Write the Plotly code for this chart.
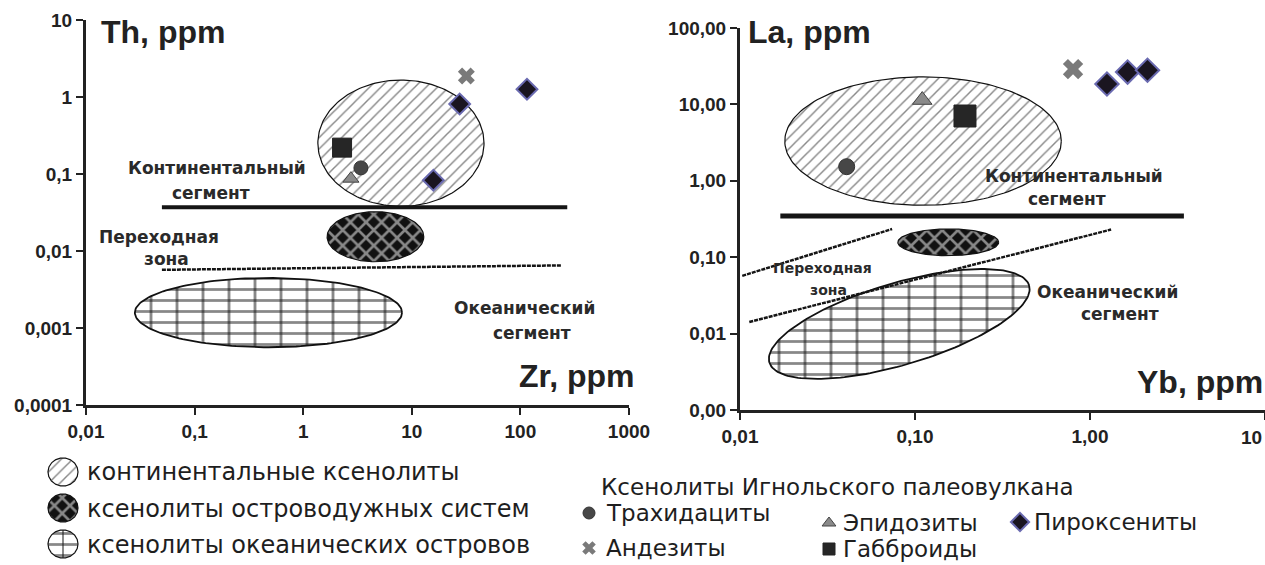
import numpy as np
import plotly.graph_objects as go

W, H = 1265, 565

# ---------------- data ----------------
# Left diagram: Zr (x) vs Th (y), ppm
L_trach_x, L_trach_y = [3.4], [0.12]
L_andes_x, L_andes_y = [31.8], [1.87]
L_epid_x, L_epid_y = [2.75], [0.087]
L_gabb_x, L_gabb_y = [2.28], [0.22]
L_pyrox_x, L_pyrox_y = [15.8, 27.6, 115], [0.083, 0.81, 1.26]

# Right diagram: Yb (x) vs La (y), ppm
R_trach_x, R_trach_y = [0.0407], [1.53]
R_andes_x, R_andes_y = [0.80], [29]
R_epid_x, R_epid_y = [0.110], [11.4]
R_gabb_x, R_gabb_y = [0.193], [7.05]
R_pyrox_x, R_pyrox_y = [1.25, 1.64, 2.13], [18.5, 26.5, 28]

# Field ellipses in log10 space: centre (cx, cy), axis vectors u and v
L_cont_ell = [0.90, -0.60, 0.765, 0.0, 0.0, 0.82]
L_arc_ell = [0.665, -1.815, 0.445, 0.0, 0.0, 0.325]
L_ocean_ell = [-0.32, -2.80, 1.23, 0.0, 0.0, 0.45]
R_cont_ell = [-0.954, 0.52, 0.79, 0.0, 0.0, 0.84]
R_arc_ell = [-0.81, -0.805, 0.288, 0.0, 0.0, 0.175]
R_ocean_ell = [-1.09, -1.874, 0.742, 0.505, 0.067, -0.513]

# Boundary lines (ppm)
L_solid_x, L_solid_y = [0.05, 270], [0.037, 0.037]
L_dash_x, L_dash_y = [0.05, 240], [0.0057, 0.0065]
R_solid_x, R_solid_y = [0.017, 3.44], [0.347, 0.347]
R_dash1_x, R_dash1_y = [0.0103, 0.074], [0.057, 0.234]
R_dash2_x, R_dash2_y = [0.0113, 1.32], [0.0142, 0.23]

# Tick labels
L_xticks = [0.01, 0.1, 1, 10, 100, 1000]
L_xlabels = ["0,01", "0,1", "1", "10", "100", "1000"]
L_yticks = [0.0001, 0.001, 0.01, 0.1, 1, 10]
L_ylabels = ["0,0001", "0,001", "0,01", "0,1", "1", "10"]
R_xticks = [0.01, 0.1, 1, 10]
R_xlabels = ["0,01", "0,10", "1,00", ""]   # last label drawn right-aligned at the edge
R_xlast = "10"
R_yticks = [0.001, 0.01, 0.1, 1, 10, 100]
R_ylabels = ["0,00", "0,01", "0,10", "1,00", "10,00", "100,00"]

# ---------------- styles ----------------
TICKFONT = dict(family="Liberation Sans", size=19, color="#222", weight="bold")
LBL = dict(family="DejaVu Sans", size=17, color="#2a2a2a", weight="bold")
TITLE = dict(family="Liberation Sans", size=32, color="#222", weight="bold")
LEG_L = dict(family="DejaVu Sans", size=24, color="#1e1e1e")
LEG_R = dict(family="DejaVu Sans", size=23, color="#1e1e1e")

PAT_CONT = dict(shape="/", fgcolor="#111", bgcolor="white", size=8, solidity=0.18)
PAT_ARC = dict(shape="x", fgcolor="white", bgcolor="#111", size=11, solidity=0.42)
PAT_BRICK_H = dict(shape="-", fgcolor="#111", bgcolor="white", size=11, solidity=0.25)
PAT_BRICK_V = dict(shape="|", fgcolor="#111", bgcolor="rgba(0,0,0,0)", size=26, solidity=0.11)

MK = {
    "trach": dict(symbol="circle", color="#474747", line=dict(color="#333", width=1)),
    "andes": dict(symbol="x", color="#7a7a7a", line=dict(color="#7a7a7a", width=0)),
    "epid": dict(symbol="triangle-up", color="#8a8a8a", line=dict(color="#444", width=1)),
    "gabb": dict(symbol="square", color="#262626", line=dict(color="#222", width=1)),
    "pyrox": dict(symbol="diamond", color="#1a1520", line=dict(color="#6a6ab0", width=2)),
}

fig = go.Figure()

t = np.linspace(0, 2 * np.pi, 181)


def ellipse(p):
    cx, cy, ux, uy, vx, vy = p
    return 10 ** (cx + ux * np.cos(t) + vx * np.sin(t)), 10 ** (cy + uy * np.cos(t) + vy * np.sin(t))


def add_field(p, pats, ax, lw):
    xs, ys = ellipse(p)
    for i, pat in enumerate(pats):
        fig.add_trace(go.Scatter(x=xs, y=ys, mode="lines", fill="toself", fillpattern=pat,
                                 fillcolor="rgba(0,0,0,0)" if i else "white",
                                 line=dict(color="#111", width=lw if i == len(pats) - 1 else 0),
                                 xaxis="x" + ax, yaxis="y" + ax, showlegend=False, hoverinfo="skip"))


def add_line(x, y, ax, width, dash="solid"):
    fig.add_trace(go.Scatter(x=x, y=y, mode="lines", line=dict(color="#151515", width=width, dash=dash),
                             xaxis="x" + ax, yaxis="y" + ax, showlegend=False, hoverinfo="skip"))


def add_pts(x, y, key, size, ax):
    m = dict(MK[key]); m["size"] = size
    fig.add_trace(go.Scatter(x=x, y=y, mode="markers", marker=m, xaxis="x" + ax, yaxis="y" + ax,
                             showlegend=False))


# left diagram
add_field(L_cont_ell, [PAT_CONT], "", 1.2)
add_field(L_arc_ell, [PAT_ARC], "", 1.2)
add_field(L_ocean_ell, [PAT_BRICK_H, PAT_BRICK_V], "", 1.8)
add_line(L_solid_x, L_solid_y, "", 4)
add_line(L_dash_x, L_dash_y, "", 2.5, "4px,1px")
add_pts(L_gabb_x, L_gabb_y, "gabb", 19, "")
add_pts(L_trach_x, L_trach_y, "trach", 14, "")
add_pts(L_epid_x, L_epid_y, "epid", 14, "")
add_pts(L_andes_x, L_andes_y, "andes", 15, "")
add_pts(L_pyrox_x, L_pyrox_y, "pyrox", 16, "")

# right diagram
add_field(R_cont_ell, [PAT_CONT], "2", 1.2)
add_field(R_arc_ell, [PAT_ARC], "2", 1.2)
add_field(R_ocean_ell, [PAT_BRICK_H, PAT_BRICK_V], "2", 1.8)
add_line(R_solid_x, R_solid_y, "2", 5)
add_line(R_dash1_x, R_dash1_y, "2", 2.5, "4px,1px")
add_line(R_dash2_x, R_dash2_y, "2", 2.5, "4px,1px")
add_pts(R_trach_x, R_trach_y, "trach", 16, "2")
add_pts(R_epid_x, R_epid_y, "epid", 17, "2")
add_pts(R_gabb_x, R_gabb_y, "gabb", 22, "2")
add_pts(R_andes_x, R_andes_y, "andes", 18, "2")
add_pts(R_pyrox_x, R_pyrox_y, "pyrox", 18, "2")


def px(x):
    return x / W


def py(y):
    return 1 - y / H


def axis(dom, rng, vals, labels, anchor):
    return dict(type="log", domain=dom, range=rng, tickvals=vals, ticktext=labels, anchor=anchor,
                showline=True, linecolor="#222", linewidth=3, ticks="outside", ticklen=7,
                tickwidth=2, tickcolor="#222", showgrid=False, zeroline=False,
                tickfont=TICKFONT, fixedrange=True, automargin=False, ticklabeloverflow="allow")


# legend overlay axis in pixel units
LEG_ICON = dict(cx=[63, 63, 63], cy=[472, 508, 544], rx=15, ry=14)
for i, pats in enumerate([[PAT_CONT], [PAT_ARC], [PAT_BRICK_H, dict(PAT_BRICK_V, size=18)]]):
    xs = LEG_ICON["cx"][i] + LEG_ICON["rx"] * np.cos(t)
    ys = LEG_ICON["cy"][i] + LEG_ICON["ry"] * np.sin(t)
    for j, pat in enumerate(pats):
        fig.add_trace(go.Scatter(x=xs, y=ys, mode="lines", fill="toself", fillpattern=pat,
                                 fillcolor="rgba(0,0,0,0)" if j else "white",
                                 line=dict(color="#111", width=1.2 if j == len(pats) - 1 else 0),
                                 xaxis="x3", yaxis="y3", showlegend=False, hoverinfo="skip"))

LEG_MK = [("trach", 589, 513, 12), ("andes", 589, 548, 12), ("epid", 829, 523, 12),
          ("gabb", 829, 549, 12), ("pyrox", 1020, 522, 14)]
for key, x, y, s in LEG_MK:
    m = dict(MK[key]); m["size"] = s
    fig.add_trace(go.Scatter(x=[x], y=[y], mode="markers", marker=m, xaxis="x3", yaxis="y3",
                             showlegend=False, hoverinfo="skip"))

ann = []


def text(s, x, y, font, xanchor="center"):
    ann.append(dict(text=s, x=px(x), y=py(y), xref="paper", yref="paper", showarrow=False,
                    xanchor=xanchor, yanchor="middle", font=font, borderpad=0))


text(R_xlast, 1263, 437, TICKFONT, "right")

text("Th, ppm", 100, 32, TITLE, "left")
text("Zr, ppm", 636, 376, TITLE, "right")
text("La, ppm", 747, 32, TITLE, "left")
text("Yb, ppm", 1264, 382, TITLE, "right")

text("Континентальный", 217, 168, LBL)
text("сегмент", 211, 193, LBL)
text("Переходная", 159, 237, LBL)
text("зона", 167, 259, LBL)
text("Океанический", 524, 308, LBL)
text("сегмент", 532, 333, LBL)

text("Континентальный", 1074, 176, LBL)
text("сегмент", 1067, 199, LBL)
text("Переходная", 822, 268, dict(LBL, size=14))
text("зона", 828, 290, dict(LBL, size=14))
text("Океанический", 1107, 292, LBL)
text("сегмент", 1120, 314, LBL)

text("континентальные ксенолиты", 86, 472, LEG_L, "left")
text("ксенолиты островодужных систем", 86, 509, LEG_L, "left")
text("ксенолиты океанических островов", 86, 545, LEG_L, "left")
text("Ксенолиты Игнольского палеовулкана", 600, 487, LEG_R, "left")
text("Трахидациты", 605, 513, LEG_R, "left")
text("Андезиты", 605, 548, LEG_R, "left")
text("Эпидозиты", 842, 523, LEG_R, "left")
text("Габброиды", 842, 549, LEG_R, "left")
text("Пироксениты", 1033, 522, LEG_R, "left")

fig.update_layout(
    width=W, height=H, margin=dict(l=0, r=0, t=0, b=0, pad=0, autoexpand=False),
    paper_bgcolor="white", plot_bgcolor="rgba(0,0,0,0)", showlegend=False,
    xaxis=axis([px(86), px(629)], [-2, 3], L_xticks, L_xlabels, "y"),
    yaxis=axis([py(405), py(20)], [-4, 1], L_yticks, L_ylabels, "x"),
    xaxis2=axis([px(740), 1.0], [-2, 1], R_xticks, R_xlabels, "y2"),
    yaxis2=axis([py(410), py(28)], [-3, 2], R_yticks, R_ylabels, "x2"),
    xaxis3=dict(domain=[0, 1], range=[0, W], visible=False, fixedrange=True, anchor="y3"),
    yaxis3=dict(domain=[0, 1], range=[H, 0], visible=False, fixedrange=True, anchor="x3"),
    annotations=ann,
    font=dict(family="Liberation Sans"),
)

fig.write_html("out.html")
